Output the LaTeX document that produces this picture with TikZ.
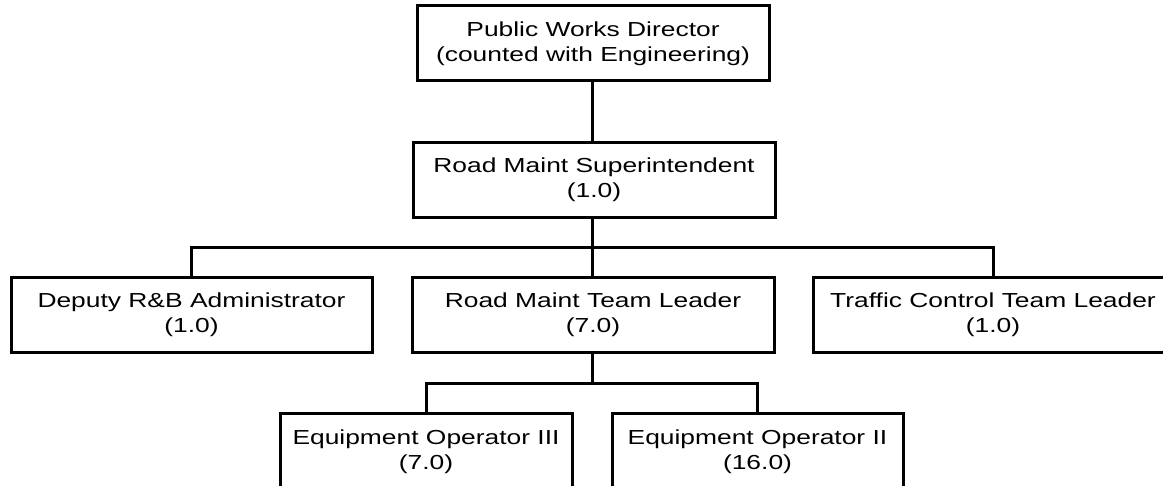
\documentclass[tikz,border=0pt]{standalone}
\usepackage{fontspec}
\setmainfont[FakeStretch=1.3]{Liberation Sans}
\begin{document}
\begin{tikzpicture}[x=1pt,y=1pt,
  box/.style={draw=black, line width=3pt, fill=white, align=center, inner sep=0pt,
    minimum height=75pt, font=\fontsize{20.3}{25}\selectfont},
  link/.style={draw=black, line width=3pt}]
\useasboundingbox (0,0) rectangle (1163,-486);
\clip (0,0) rectangle (1163,-486);
\node[box, minimum width=352pt] (pwd) at (593,-43.5) {Public Works Director\\(counted with Engineering)};
\node[box, minimum width=362pt] (sup) at (594,-180) {Road Maint Superintendent\\(1.0)};
\node[box, minimum width=361pt] (dep) at (191.5,-315) {Deputy R\&B Administrator\\(1.0)};
\node[box, minimum width=362pt] (rtl) at (593,-315) {Road Maint Team Leader\\(7.0)};
\node[box, minimum width=360pt] (tcl) at (993,-315) {Traffic Control Team Leader\\(1.0)};
\node[box, minimum width=292pt] (eo3) at (426,-451.5) {Equipment Operator III\\(7.0)};
\node[box, minimum width=291pt] (eo2) at (757.5,-451.5) {Equipment Operator II\\(16.0)};
\coordinate (bus1) at (592,-248);
\coordinate (bus2) at (592,-384);
\draw[link] (pwd.south -| bus1) -- (sup.north -| bus1);
\draw[link] (sup.south -| bus1) -- (bus1);
\draw[link] (dep.north) |- (bus1) -| (tcl.north);
\draw[link] (bus1) -- (rtl.north -| bus1);
\draw[link] (rtl.south -| bus2) -- (bus2);
\draw[link] (eo3.north) |- (bus2) -| (eo2.north);
\end{tikzpicture}
\end{document}
